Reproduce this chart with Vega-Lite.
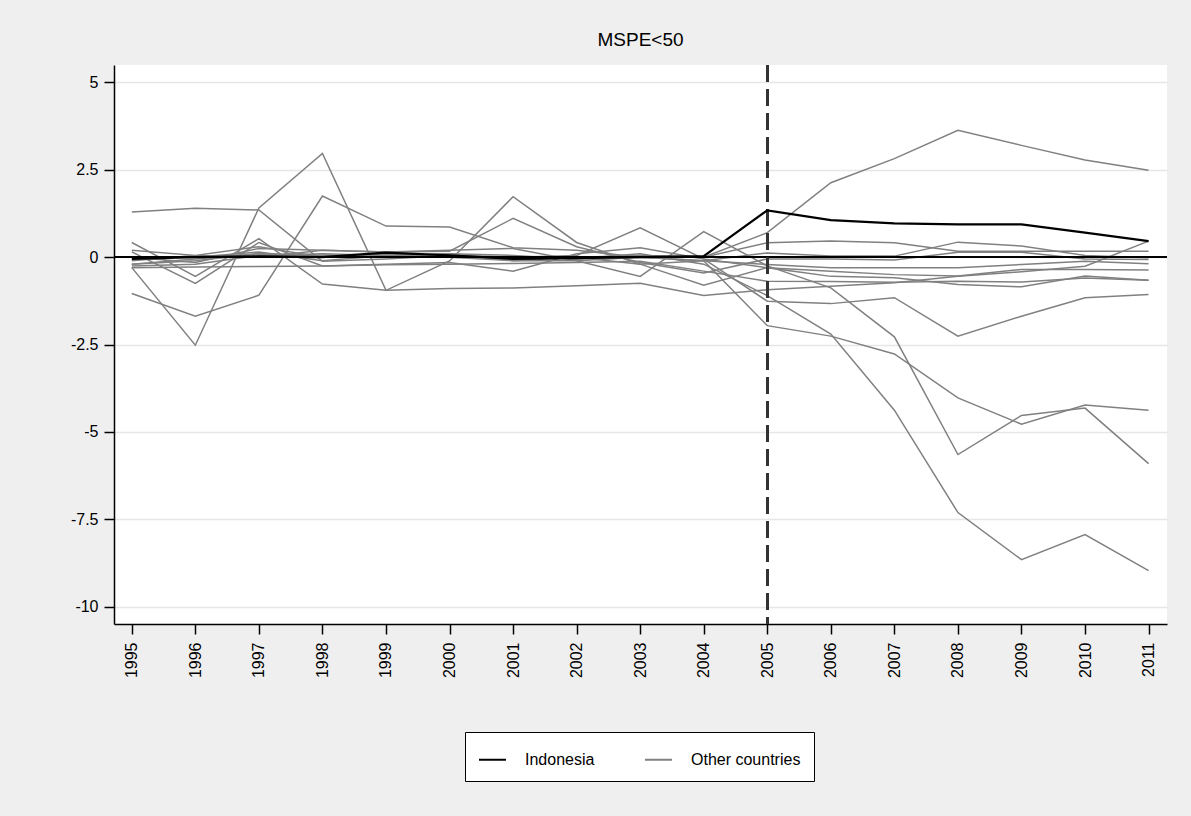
{
  "$schema": "https://vega.github.io/schema/vega-lite/v6.json",
  "width": 1053,
  "height": 559,
  "autosize": {"type": "none"},
  "padding": {"left": 114, "top": 65, "right": 24, "bottom": 192},
  "background": "#efefef",
  "title": {"text": "MSPE<50", "fontSize": 19, "font": "Liberation Sans", "fontWeight": "normal", "color": "#000000", "offset": 14},
  "config": {
    "view": {"fill": "white", "stroke": null},
    "font": "Liberation Sans",
    "axis": {"labelFont": "Liberation Sans", "labelFontSize": 16, "labelColor": "#000000", "tickColor": "#000000", "tickWidth": 1.5, "tickSize": 10, "domainColor": "#000000", "domainWidth": 1.5, "gridColor": "#e6e6e6", "gridWidth": 1.5}
  },
  "data": {"values": [
    {"year": 1995, "IDN": -0.05, "G1": -0.2, "G2": 1.29, "G3": -0.3, "G4": 0.0, "G5": -0.25, "G6": 0.15, "G7": 0.2, "G8": 0.42, "G9": -0.1, "G10": -1.04, "G11": -0.2, "G12": -0.3, "G13": 0.0},
    {"year": 1996, "IDN": 0.0, "G1": -0.1, "G2": 1.40, "G3": -2.52, "G4": -0.15, "G5": -0.2, "G6": -0.75, "G7": 0.05, "G8": -0.55, "G9": 0.05, "G10": -1.69, "G11": -0.05, "G12": -0.28, "G13": 0.0},
    {"year": 1997, "IDN": 0.02, "G1": 0.1, "G2": 1.35, "G3": 1.41, "G4": 0.25, "G5": 0.05, "G6": 0.42, "G7": 0.0, "G8": 0.53, "G9": 0.3, "G10": -1.09, "G11": 0.1, "G12": -0.27, "G13": 0.15},
    {"year": 1998, "IDN": 0.0, "G1": 0.05, "G2": -0.12, "G3": 2.97, "G4": 0.2, "G5": 0.1, "G6": -0.25, "G7": 0.2, "G8": -0.77, "G9": 0.0, "G10": 1.75, "G11": 0.05, "G12": -0.25, "G13": -0.1},
    {"year": 1999, "IDN": 0.13, "G1": 0.1, "G2": -0.05, "G3": -0.95, "G4": 0.15, "G5": 0.05, "G6": -0.2, "G7": 0.15, "G8": -0.95, "G9": 0.1, "G10": 0.89, "G11": 0.0, "G12": -0.22, "G13": 0.05},
    {"year": 2000, "IDN": 0.05, "G1": 0.05, "G2": 0.05, "G3": -0.11, "G4": 0.17, "G5": 0.0, "G6": -0.15, "G7": 0.2, "G8": -0.9, "G9": 0.05, "G10": 0.86, "G11": 0.1, "G12": -0.2, "G13": 0.1},
    {"year": 2001, "IDN": -0.05, "G1": -0.05, "G2": 0.0, "G3": 1.73, "G4": 1.11, "G5": -0.1, "G6": -0.4, "G7": 0.25, "G8": -0.88, "G9": 0.0, "G10": 0.27, "G11": 0.05, "G12": -0.18, "G13": -0.1},
    {"year": 2002, "IDN": -0.03, "G1": 0.0, "G2": -0.05, "G3": 0.42, "G4": 0.3, "G5": -0.1, "G6": 0.1, "G7": -0.1, "G8": -0.82, "G9": 0.05, "G10": 0.2, "G11": -0.05, "G12": -0.15, "G13": 0.0},
    {"year": 2003, "IDN": 0.0, "G1": 0.05, "G2": 0.05, "G3": -0.2, "G4": -0.15, "G5": 0.0, "G6": 0.27, "G7": -0.55, "G8": -0.75, "G9": 0.84, "G10": 0.0, "G11": 0.1, "G12": -0.12, "G13": -0.2},
    {"year": 2004, "IDN": 0.03, "G1": 0.0, "G2": 0.0, "G3": -0.1, "G4": -0.45, "G5": -0.1, "G6": -0.05, "G7": 0.73, "G8": -1.1, "G9": -0.05, "G10": -0.1, "G11": -0.2, "G12": -0.4, "G13": -0.8},
    {"year": 2005, "IDN": 1.34, "G1": 0.70, "G2": 0.41, "G3": 0.12, "G4": -0.05, "G5": -0.21, "G6": -0.30, "G7": -0.25, "G8": -0.93, "G9": -1.26, "G10": -1.96, "G11": -1.1, "G12": -0.69, "G13": -0.3},
    {"year": 2006, "IDN": 1.06, "G1": 2.13, "G2": 0.46, "G3": 0.03, "G4": -0.05, "G5": -0.3, "G6": -0.4, "G7": -0.88, "G8": -0.83, "G9": -1.33, "G10": -2.26, "G11": -2.2, "G12": -0.7, "G13": -0.55},
    {"year": 2007, "IDN": 0.97, "G1": 2.82, "G2": 0.41, "G3": 0.03, "G4": -0.08, "G5": -0.3, "G6": -0.5, "G7": -2.28, "G8": -0.73, "G9": -1.16, "G10": -2.77, "G11": -4.38, "G12": -0.72, "G13": -0.59},
    {"year": 2008, "IDN": 0.94, "G1": 3.63, "G2": 0.17, "G3": 0.43, "G4": 0.14, "G5": -0.3, "G6": -0.54, "G7": -5.65, "G8": -0.55, "G9": -2.26, "G10": -4.03, "G11": -7.31, "G12": -0.69, "G13": -0.78},
    {"year": 2009, "IDN": 0.94, "G1": 3.2, "G2": 0.17, "G3": 0.32, "G4": 0.14, "G5": -0.21, "G6": -0.35, "G7": -4.53, "G8": -0.42, "G9": -1.69, "G10": -4.78, "G11": -8.66, "G12": -0.71, "G13": -0.85},
    {"year": 2010, "IDN": 0.70, "G1": 2.78, "G2": 0.17, "G3": 0.05, "G4": -0.05, "G5": -0.12, "G6": -0.35, "G7": -4.32, "G8": -0.26, "G9": -1.16, "G10": -4.23, "G11": -7.94, "G12": -0.6, "G13": -0.54},
    {"year": 2011, "IDN": 0.46, "G1": 2.49, "G2": 0.17, "G3": -0.02, "G4": -0.07, "G5": -0.19, "G6": -0.37, "G7": -5.91, "G8": 0.46, "G9": -1.07, "G10": -4.38, "G11": -8.97, "G12": -0.66, "G13": -0.66}
  ]},
  "layer": [
    {
      "transform": [{"fold": ["G1", "G2", "G3", "G4", "G5", "G6", "G7", "G8", "G9", "G10", "G11", "G12", "G13"], "as": ["country", "value"]}],
      "mark": {"type": "line", "strokeWidth": 1.5},
      "encoding": {
        "x": {"field": "year", "type": "quantitative", "scale": {"domain": [1994.72, 2011.29], "nice": false, "zero": false},
              "axis": {"title": null, "values": [1995, 1996, 1997, 1998, 1999, 2000, 2001, 2002, 2003, 2004, 2005, 2006, 2007, 2008, 2009, 2010, 2011], "labelAngle": 270, "labelExpr": "'' + datum.value", "grid": false, "labelPadding": 8}},
        "y": {"field": "value", "type": "quantitative", "scale": {"domain": [-10.5, 5.5], "nice": false, "zero": false},
              "axis": {"title": null, "values": [-10, -7.5, -5, -2.5, 0, 2.5, 5], "labelExpr": "'' + datum.value", "grid": true, "labelPadding": 6}},
        "detail": {"field": "country"},
        "color": {"datum": "Other countries", "type": "nominal",
                  "scale": {"domain": ["Indonesia", "Other countries"], "range": ["#000000", "#808080"]},
                  "legend": {"title": null, "orient": "none", "legendX": 351, "legendY": 667, "direction": "horizontal",
                             "strokeColor": "#000000", "fillColor": "#ffffff", "padding": 13, "symbolType": "stroke",
                             "symbolSize": 729, "symbolStrokeWidth": 2, "labelFontSize": 16, "labelFont": "Liberation Sans",
                             "labelColor": "#000000", "columnPadding": 46, "labelOffset": 18}}
      }
    },
    {
      "mark": {"type": "rule", "color": "#000000", "strokeWidth": 1.75},
      "encoding": {"y": {"datum": 0, "type": "quantitative"}}
    },
    {
      "mark": {"type": "rule", "color": "#333333", "strokeWidth": 2, "strokeDash": [17, 7]},
      "encoding": {"x": {"datum": 2005, "type": "quantitative"}}
    },
    {
      "mark": {"type": "line", "strokeWidth": 2.25},
      "encoding": {
        "x": {"field": "year", "type": "quantitative"},
        "y": {"field": "IDN", "type": "quantitative"},
        "color": {"datum": "Indonesia", "type": "nominal"}
      }
    }
  ]
}
